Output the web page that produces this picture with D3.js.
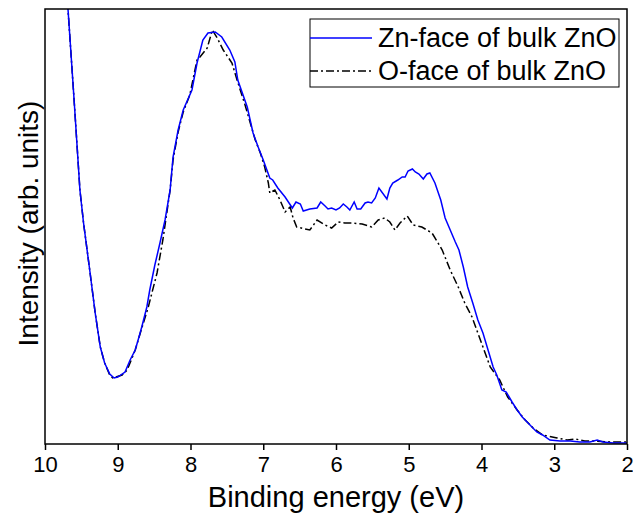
<!DOCTYPE html>
<html>
<head>
<meta charset="utf-8">
<script src="https://cdn.jsdelivr.net/npm/d3@7"></script>
<style>
	body { margin: 0; background: #fff; }
	svg { display: block; font-family: "Liberation Sans", Arial, sans-serif; }
	.x-axis text { font-size: 22px; fill: #000; }
	.x-axis line { stroke: #000; stroke-width: 1.5; }
</style>
</head>
<body>
<div class="chart"></div>
<script>

// binding energy (eV) and intensity (arb. units)
const znEnergy = [9.72, 9.684, 9.60, 9.52, 9.47, 9.38, 9.31, 9.24, 9.18, 9.11, 9.05, 9.00, 8.90, 8.83, 8.76, 8.72, 8.67, 8.60, 8.56, 8.49, 8.42, 8.35, 8.28, 8.24, 8.17, 8.10, 7.98, 7.91, 7.83, 7.76, 7.66, 7.57, 7.46, 7.39, 7.35, 7.22, 7.14, 7.07, 7.00, 6.91, 6.87, 6.80, 6.70, 6.60, 6.55, 6.49, 6.45, 6.36, 6.26, 6.21, 6.15, 6.11, 6.06, 6.00, 5.95, 5.90, 5.85, 5.81, 5.75, 5.71, 5.66, 5.60, 5.56, 5.51, 5.46, 5.41, 5.30, 5.26, 5.22, 5.15, 5.09, 5.05, 5.01, 4.95, 4.91, 4.86, 4.80, 4.75, 4.71, 4.64, 4.56, 4.50, 4.43, 4.36, 4.31, 4.25, 4.19, 4.12, 4.05, 3.98, 3.91, 3.84, 3.79, 3.72, 3.66, 3.58, 3.51, 3.44, 3.36, 3.24, 3.16, 3.06, 2.92, 2.78, 2.65, 2.51, 2.41, 2.33, 2.19, 2.00];
const znIntensity = [474, 435, 344, 254, 221, 171, 131, 97, 81, 70, 66, 67, 72, 84, 94, 104, 117, 137, 154, 179, 201, 224, 254, 287, 314, 334, 354, 381, 404, 411, 412, 407, 394, 382, 364, 337, 311, 297, 284, 266, 264, 256, 247, 236, 242, 240, 233, 235, 236, 242, 238, 235, 236, 234, 236, 240, 237, 234, 242, 235, 235, 241, 242, 241, 246, 256, 245, 256, 261, 264, 267, 267, 273, 275, 272, 270, 265, 270, 271, 261, 244, 226, 214, 202, 194, 177, 157, 141, 124, 111, 94, 77, 69, 54, 52, 42, 34, 27, 21, 12, 9, 4, 3, 3, 2, 2, 4, 2, 1, 1];

const oEnergy = [9.72, 9.684, 9.60, 9.52, 9.47, 9.38, 9.31, 9.24, 9.18, 9.11, 9.07, 8.94, 8.87, 8.76, 8.69, 8.58, 8.46, 8.38, 8.28, 8.24, 8.17, 8.10, 8.01, 7.91, 7.87, 7.77, 7.70, 7.64, 7.55, 7.43, 7.36, 7.25, 7.15, 7.11, 7.04, 6.98, 6.93, 6.91, 6.84, 6.77, 6.70, 6.63, 6.59, 6.54, 6.36, 6.26, 6.15, 6.06, 5.97, 5.88, 5.77, 5.64, 5.51, 5.42, 5.33, 5.26, 5.19, 5.12, 5.02, 4.94, 4.82, 4.68, 4.54, 4.43, 4.32, 4.23, 4.13, 4.05, 3.98, 3.88, 3.75, 3.64, 3.51, 3.40, 3.29, 3.16, 2.96, 2.82, 2.71, 2.58, 2.44, 2.23, 2.00];
const oIntensity = [474, 435, 344, 254, 221, 171, 131, 97, 81, 69, 66, 69, 74, 94, 111, 137, 171, 204, 254, 284, 312, 332, 349, 384, 387, 396, 414, 407, 394, 381, 364, 339, 314, 304, 291, 277, 261, 251, 254, 244, 232, 237, 226, 217, 214, 224, 219, 216, 222, 221, 221, 220, 217, 224, 226, 222, 214, 221, 228, 219, 217, 211, 194, 174, 157, 141, 127, 111, 97, 77, 64, 47, 34, 24, 16, 9, 6, 4, 5, 3, 3, 2, 2];

const xTicks = [10, 9, 8, 7, 6, 5, 4, 3, 2];
const seriesNames = ["Zn-face of bulk ZnO", "O-face of bulk ZnO"];

const width = 633;
const height = 514;
const margin = { top: 9, right: 6, bottom: 70, left: 45 };

const series = [
	{ name: seriesNames[0], color: "#0000ff", dash: null,
		values: znEnergy.map((e, i) => ({ e: e, v: znIntensity[i] })) },
	{ name: seriesNames[1], color: "#000000", dash: "8,3,2,3",
		values: oEnergy.map((e, i) => ({ e: e, v: oIntensity[i] })) }
];

const x = d3.scaleLinear().domain([10, 2]).range([margin.left, width - margin.right]);
const y = d3.scaleLinear().domain([0, 435]).range([height - margin.bottom, margin.top]);

const svg = d3.select(".chart")
	.append("svg")
		.attr("width", width)
		.attr("height", height);

svg.append("clipPath")
		.attr("id", "plot-clip")
	.append("rect")
		.attr("x", x(10))
		.attr("y", y(435))
		.attr("width", x(2) - x(10))
		.attr("height", y(0) - y(435));

const line = d3.line()
	.x((d) => x(d.e))
	.y((d) => y(d.v));

// O-face first so the blue line sits on top
svg.append("g")
		.attr("clip-path", "url(#plot-clip)")
	.selectAll(".series")
		.data(series.slice().reverse()).enter()
	.append("path")
		.attr("class", "series")
		.attr("fill", "none")
		.attr("stroke", (d) => d.color)
		.attr("stroke-width", 1.5)
		.attr("stroke-dasharray", (d) => d.dash)
		.attr("d", (d) => line(d.values));

// x axis
const axis = d3.axisBottom(x)
	.tickValues(xTicks)
	.tickSize(6)
	.tickSizeOuter(0)
	.tickPadding(6);

svg.append("g")
	.attr("class", "x-axis")
	.attr("transform", `translate(0, ${y(0)})`)
	.call(axis)
	.call((g) => g.select(".domain").remove());

// frame
svg.append("rect")
	.attr("x", x(10))
	.attr("y", y(435))
	.attr("width", x(2) - x(10))
	.attr("height", y(0) - y(435))
	.attr("fill", "none")
	.attr("stroke", "#000")
	.attr("stroke-width", 1.5);

// axis titles
svg.append("text")
	.attr("x", (x(10) + x(2)) / 2)
	.attr("y", 507)
	.attr("text-anchor", "middle")
	.attr("font-size", 29)
	.text("Binding energy (eV)");

svg.append("text")
	.attr("transform", `translate(38, ${(y(0) + y(435)) / 2 - 3}) rotate(-90)`)
	.attr("text-anchor", "middle")
	.attr("font-size", 28)
	.text("Intensity (arb. units)");

// legend
const legend = svg.append("g")
	.attr("class", "legend")
	.attr("transform", "translate(310, 19)");

legend.append("rect")
	.attr("width", 309)
	.attr("height", 68)
	.attr("fill", "#fff")
	.attr("stroke", "#000")
	.attr("stroke-width", 1);

const items = legend.selectAll(".item")
	.data(series).enter()
	.append("g")
		.attr("class", "item")
		.attr("transform", (d, i) => `translate(0, ${19 + i * 33})`);

items.append("line")
	.attr("x1", 0)
	.attr("x2", 62)
	.attr("stroke", (d) => d.color)
	.attr("stroke-width", 1.5)
	.attr("stroke-dasharray", (d) => d.dash);

items.append("text")
	.attr("x", 68)
	.attr("y", 9)
	.attr("font-size", 27)
	.text((d) => d.name);

</script>
</body>
</html>
